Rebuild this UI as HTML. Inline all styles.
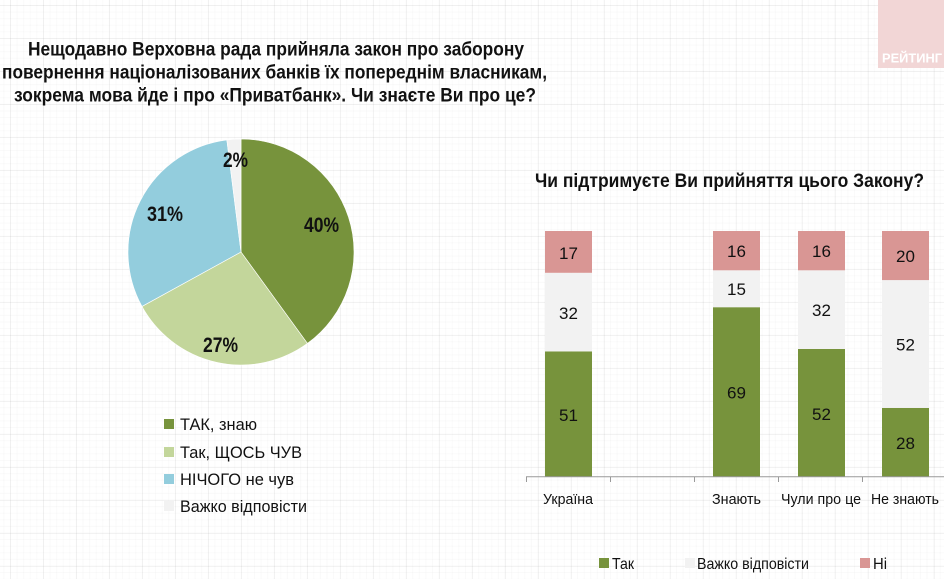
<!DOCTYPE html>
<html>
<head>
<meta charset="utf-8">
<style>
html,body{margin:0;padding:0;width:944px;height:579px;overflow:hidden;background:#fff;}
body{
background-color:#fff;
background-image:
 linear-gradient(to right, rgba(0,0,0,0.04) 1px, transparent 1px),
 linear-gradient(to bottom, rgba(0,0,0,0.04) 1px, transparent 1px),
 linear-gradient(to right, rgba(0,0,0,0.018) 1px, transparent 1px),
 linear-gradient(to bottom, rgba(0,0,0,0.018) 1px, transparent 1px);
background-size:33px 33px,33px 33px,6.6px 6.6px,6.6px 6.6px;
background-position:10px 0,0 5px,10px 0,0 5px;
}
svg{position:absolute;left:0;top:0;}
text{font-family:"Liberation Sans","Noto Sans CJK SC",sans-serif;}
</style>
</head>
<body>
<svg width="944" height="579" viewBox="0 0 944 579" xmlns="http://www.w3.org/2000/svg">
  <!-- РЕЙТИНГ box -->
  <rect x="878" y="0" width="66" height="68" fill="#f2d6d6"/>
  <text x="882" y="62.5" font-size="13" font-weight="bold" fill="#ffffff" textLength="60" lengthAdjust="spacingAndGlyphs">РЕЙТИНГ</text>

  <!-- Main title -->
  <g font-weight="bold" font-size="19" fill="#111">
    <text x="28" y="55.5" textLength="496" lengthAdjust="spacingAndGlyphs">Нещодавно Верховна рада прийняла закон про заборону</text>
    <text x="2" y="78.5" textLength="545" lengthAdjust="spacingAndGlyphs">повернення націоналізованих банків їх попереднім власникам,</text>
    <text x="14" y="101.5" textLength="522" lengthAdjust="spacingAndGlyphs">зокрема мова йде і про «Приватбанк». Чи знаєте Ви про це?</text>
  </g>

  <!-- Pie -->
  <g stroke="#ffffff" stroke-width="0.6">
    <path d="M241,252 L241,139 A113,113 0 0 1 307.42,343.42 Z" fill="#77933c"/>
    <path d="M241,252 L307.42,343.42 A113,113 0 0 1 141.98,306.44 Z" fill="#c3d69b"/>
    <path d="M241,252 L141.98,306.44 A113,113 0 0 1 226.84,139.89 Z" fill="#93cddd"/>
    <path d="M241,252 L226.84,139.89 A113,113 0 0 1 241,139 Z" fill="#f2f2f2"/>
  </g>
  <g font-weight="bold" font-size="21" fill="#111">
    <text x="304" y="232" textLength="35" lengthAdjust="spacingAndGlyphs">40%</text>
    <text x="203" y="352" textLength="35" lengthAdjust="spacingAndGlyphs">27%</text>
    <text x="147" y="221" textLength="36" lengthAdjust="spacingAndGlyphs">31%</text>
    <text x="223" y="167" textLength="25" lengthAdjust="spacingAndGlyphs">2%</text>
  </g>

  <!-- Pie legend -->
  <rect x="164" y="419" width="10" height="10" fill="#77933c"/>
  <rect x="164" y="447" width="10" height="10" fill="#c3d69b"/>
  <rect x="164" y="474" width="10" height="10" fill="#93cddd"/>
  <rect x="164" y="501" width="10" height="10" fill="#f2f2f2"/>
  <g font-size="16.5" fill="#111">
    <text x="180" y="430" textLength="77" lengthAdjust="spacingAndGlyphs">ТАК, знаю</text>
    <text x="180" y="458" textLength="122" lengthAdjust="spacingAndGlyphs">Так, ЩОСЬ ЧУВ</text>
    <text x="180" y="485" textLength="114" lengthAdjust="spacingAndGlyphs">НІЧОГО не чув</text>
    <text x="180" y="512" textLength="127" lengthAdjust="spacingAndGlyphs">Важко відповісти</text>
  </g>

  <!-- Bar chart title -->
  <text x="535" y="187" font-size="19" font-weight="bold" fill="#111" textLength="389" lengthAdjust="spacingAndGlyphs">Чи підтримуєте Ви прийняття цього Закону?</text>

  <!-- Bars -->
  <rect x="545" y="351.4" width="47" height="125.3" fill="#77933c"/>
  <rect x="545" y="272.8" width="47" height="78.6" fill="#f2f2f2"/>
  <rect x="545" y="231" width="47" height="41.8" fill="#d99694"/>
  <rect x="713" y="307.2" width="47" height="169.5" fill="#77933c"/>
  <rect x="713" y="270.3" width="47" height="36.9" fill="#f2f2f2"/>
  <rect x="713" y="231" width="47" height="39.3" fill="#d99694"/>
  <rect x="798" y="349" width="47" height="127.7" fill="#77933c"/>
  <rect x="798" y="270.3" width="47" height="78.7" fill="#f2f2f2"/>
  <rect x="798" y="231" width="47" height="39.3" fill="#d99694"/>
  <rect x="882" y="407.9" width="47" height="68.8" fill="#77933c"/>
  <rect x="882" y="280.1" width="47" height="127.8" fill="#f2f2f2"/>
  <rect x="882" y="231" width="47" height="49.1" fill="#d99694"/>

  <g font-size="17" fill="#111" text-anchor="middle">
    <text x="568.5" y="421">51</text>
    <text x="568.5" y="319">32</text>
    <text x="568.5" y="259">17</text>
    <text x="736.5" y="398.5">69</text>
    <text x="736.5" y="295">15</text>
    <text x="736.5" y="257">16</text>
    <text x="821.5" y="420">52</text>
    <text x="821.5" y="316">32</text>
    <text x="821.5" y="257">16</text>
    <text x="905.5" y="449">28</text>
    <text x="905.5" y="350.5">52</text>
    <text x="905.5" y="262">20</text>
  </g>

  <!-- Axis -->
  <line x1="526" y1="476.7" x2="944" y2="476.7" stroke="#9a9a9a" stroke-width="1"/>
  <g stroke="#9a9a9a" stroke-width="1">
    <line x1="526.5" y1="476.7" x2="526.5" y2="482"/>
    <line x1="610.5" y1="476.7" x2="610.5" y2="482"/>
    <line x1="694.5" y1="476.7" x2="694.5" y2="482"/>
    <line x1="778.5" y1="476.7" x2="778.5" y2="482"/>
    <line x1="862.5" y1="476.7" x2="862.5" y2="482"/>
  </g>
  <g font-size="15" fill="#111">
    <text x="543" y="504" textLength="50" lengthAdjust="spacingAndGlyphs">Україна</text>
    <text x="712" y="504" textLength="49" lengthAdjust="spacingAndGlyphs">Знають</text>
    <text x="781" y="504" textLength="80" lengthAdjust="spacingAndGlyphs">Чули про це</text>
    <text x="871" y="504" textLength="68" lengthAdjust="spacingAndGlyphs">Не знають</text>
  </g>

  <!-- Bar legend -->
  <rect x="599" y="558" width="10" height="10" fill="#77933c"/>
  <rect x="685" y="558" width="10" height="10" fill="#f2f2f2"/>
  <rect x="860" y="558" width="10" height="10" fill="#d99694"/>
  <g font-size="16" fill="#111">
    <text x="612" y="569" textLength="22" lengthAdjust="spacingAndGlyphs">Так</text>
    <text x="697" y="569" textLength="112" lengthAdjust="spacingAndGlyphs">Важко відповісти</text>
    <text x="873" y="569" textLength="14" lengthAdjust="spacingAndGlyphs">Ні</text>
  </g>
</svg>
</body>
</html>
